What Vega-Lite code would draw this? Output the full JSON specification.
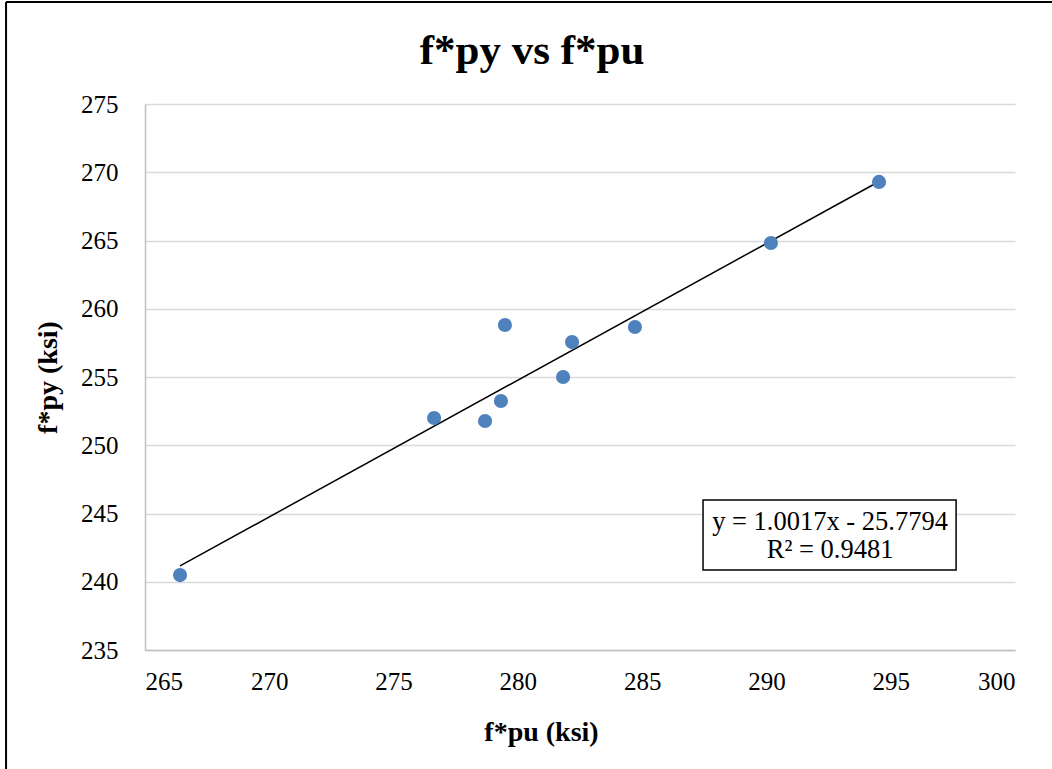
{
  "$schema": "https://vega.github.io/schema/vega-lite/v6.json",
  "width": 870,
  "height": 546,
  "autosize": {"type": "none"},
  "padding": {"left": 145, "top": 104, "right": 37, "bottom": 119},
  "background": "white",
  "config": {
    "font": "Liberation Serif",
    "view": {"stroke": null},
    "axis": {"labelFont": "Liberation Serif", "titleFont": "Liberation Serif", "labelColor": "#000", "titleColor": "#000"}
  },
  "title": {
    "text": "f*py vs f*pu",
    "font": "Liberation Serif",
    "fontSize": 43,
    "fontWeight": "bold",
    "color": "#000",
    "anchor": "middle",
    "baseline": "alphabetic",
    "dx": -48,
    "dy": 132,
    "offset": 26
  },
  "datasets": {
    "pts": [
      {"fpu": 266.41, "fpy": 240.49},
      {"fpu": 276.63, "fpy": 252.0},
      {"fpu": 278.68, "fpy": 251.78},
      {"fpu": 279.32, "fpy": 253.24},
      {"fpu": 279.48, "fpy": 258.81},
      {"fpu": 281.82, "fpy": 255.0},
      {"fpu": 282.18, "fpy": 257.56},
      {"fpu": 284.71, "fpy": 258.66},
      {"fpu": 290.18, "fpy": 264.82},
      {"fpu": 294.53, "fpy": 269.29}
    ],
    "eq": [
      {"x": 292.56, "y": 244.38, "x1": 287.45, "x2": 297.63, "y1": 245.99, "y2": 240.86, "label": "y = 1.0017x - 25.7794\nR² = 0.9481"}
    ],
    "frame": [
      {"left": 259.41, "right": 301.6, "top": 282.47, "bottom": 226.0}
    ]
  },
  "layer": [
    {
      "data": {"name": "pts"},
      "transform": [{"regression": "fpy", "on": "fpu"}],
      "mark": {"type": "line", "color": "#000", "strokeWidth": 1.5},
      "encoding": {
        "x": {
          "field": "fpu", "type": "quantitative",
          "scale": {"domain": [265, 300], "nice": false, "zero": false},
          "axis": {
            "title": "f*pu (ksi)", "titleFontSize": 28, "titleFontWeight": "bold",
            "titleX": 396, "titleY": 68, "titleAnchor": "middle",
            "values": [265, 270, 275, 280, 285, 290, 295, 300],
            "labelFontSize": 25, "labelPadding": 19, "ticks": false,
            "grid": false, "domainColor": "#bfbfbf", "domainWidth": 1.5
          }
        },
        "y": {
          "field": "fpy", "type": "quantitative",
          "scale": {"domain": [235, 275], "nice": false, "zero": false},
          "axis": {
            "title": "f*py (ksi)", "titleFontSize": 28, "titleFontWeight": "bold",
            "titlePadding": 18,
            "values": [235, 240, 245, 250, 255, 260, 265, 270, 275],
            "labelFontSize": 25, "labelPadding": 27, "ticks": false,
            "grid": true, "gridColor": "#d9d9d9", "gridWidth": 1.5,
            "domainColor": "#bfbfbf", "domainWidth": 1.5
          }
        }
      }
    },
    {
      "data": {"name": "pts"},
      "mark": {"type": "circle", "size": 200, "color": "#4f81bd", "opacity": 1},
      "encoding": {
        "x": {"field": "fpu", "type": "quantitative"},
        "y": {"field": "fpy", "type": "quantitative"}
      }
    },
    {
      "data": {"name": "eq"},
      "mark": {"type": "rect", "fill": "white", "stroke": "#000", "strokeWidth": 1.5},
      "encoding": {
        "x": {"field": "x1", "type": "quantitative"},
        "x2": {"field": "x2"},
        "y": {"field": "y1", "type": "quantitative"},
        "y2": {"field": "y2"}
      }
    },
    {
      "data": {"name": "eq"},
      "mark": {"type": "text", "font": "Liberation Serif", "fontSize": 26.5, "color": "#000", "align": "center", "baseline": "middle", "lineBreak": "\n", "lineHeight": 28},
      "encoding": {
        "x": {"field": "x", "type": "quantitative"},
        "y": {"field": "y", "type": "quantitative"},
        "text": {"field": "label"}
      }
    },
    {
      "data": {"name": "frame"},
      "mark": {"type": "rule", "color": "#000", "strokeWidth": 2, "clip": false},
      "encoding": {
        "x": {"field": "left", "type": "quantitative"},
        "y": {"field": "top", "type": "quantitative"},
        "y2": {"field": "bottom"}
      }
    },
    {
      "data": {"name": "frame"},
      "mark": {"type": "rule", "color": "#000", "strokeWidth": 2, "clip": false},
      "encoding": {
        "x": {"field": "left", "type": "quantitative"},
        "x2": {"field": "right"},
        "y": {"field": "top", "type": "quantitative"}
      }
    }
  ]
}
